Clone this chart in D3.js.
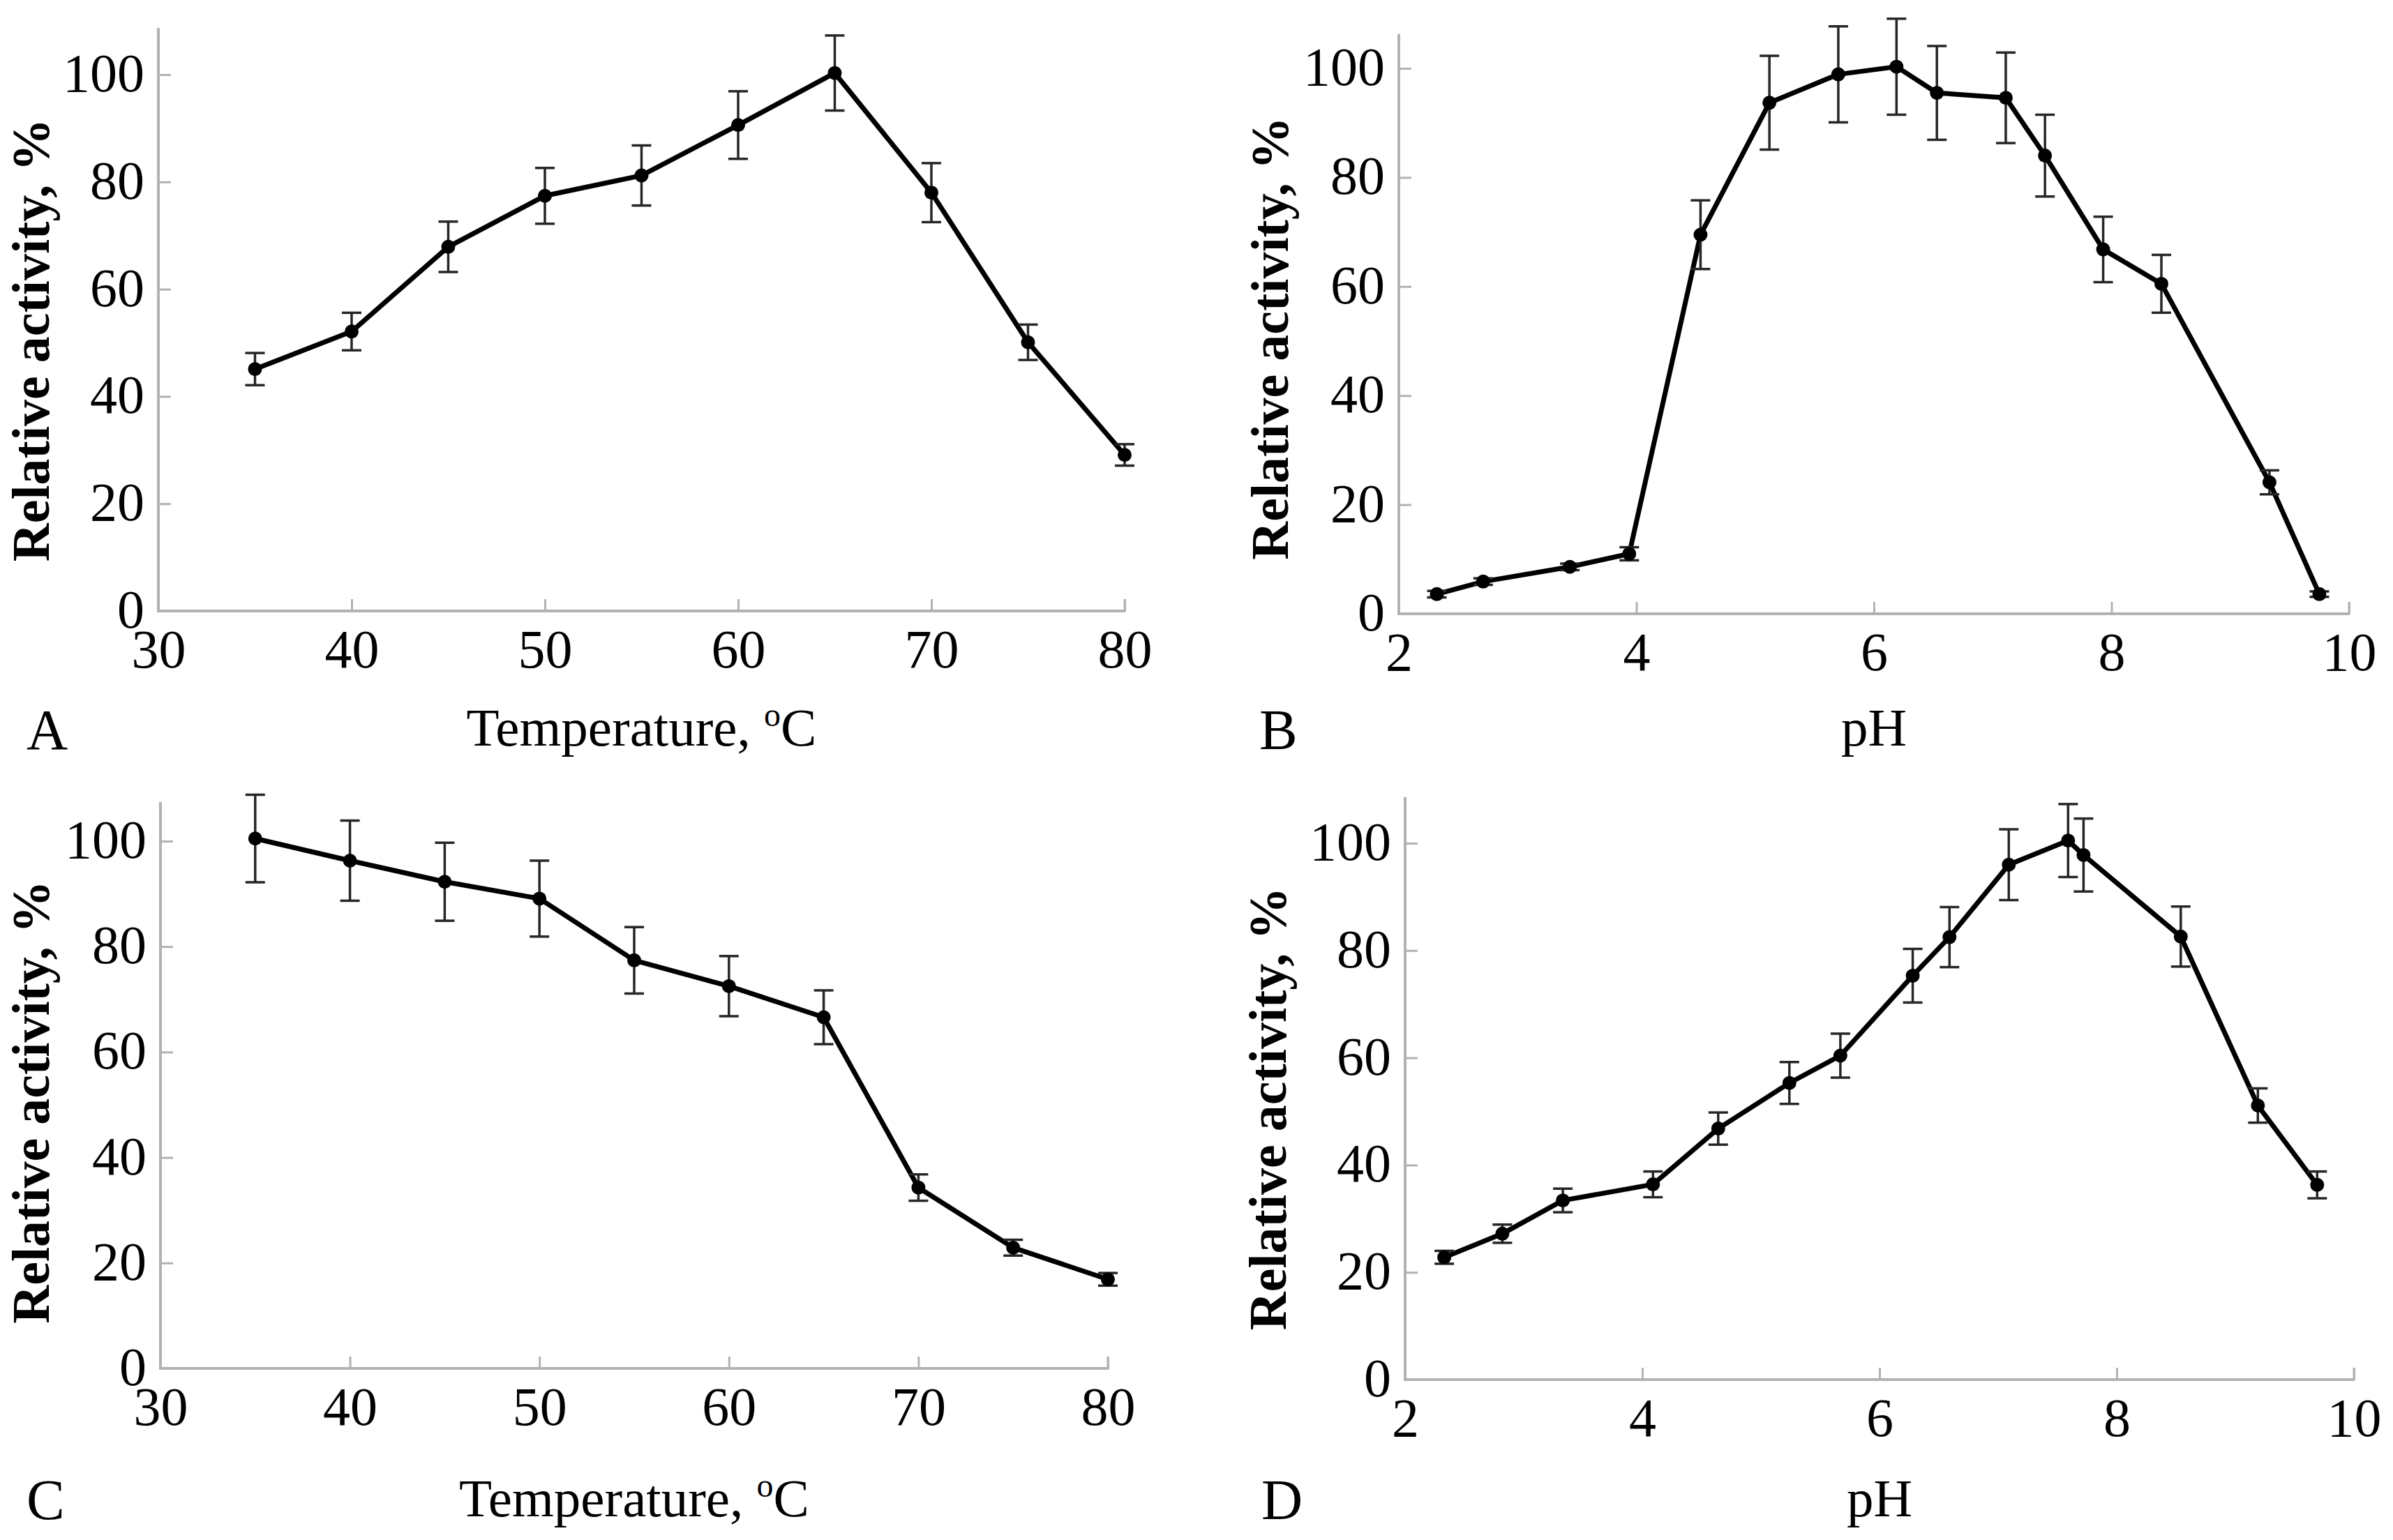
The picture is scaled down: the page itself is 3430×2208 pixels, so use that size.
<!DOCTYPE html>
<html>
<head>
<meta charset="utf-8">
<script src="https://cdn.jsdelivr.net/npm/d3@7"></script>
<style>
  html, body { margin: 0; padding: 0; background: #fff; }
  svg { display: block; }
</style>
</head>
<body>
<svg id="chart"></svg>
<script>
// temperature panels (A, C)
const tempX = [35, 40, 45, 50, 55, 60, 65, 70, 75, 80];
const actA = [45.1, 52.1, 67.9, 77.4, 81.2, 90.6, 100.3, 78.0, 50.1, 29.1];
const errA = [3.0, 3.5, 4.7, 5.2, 5.6, 6.3, 7.0, 5.5, 3.3, 2.0];
const actC = [100.5, 96.3, 92.3, 89.1, 77.4, 72.5, 66.6, 34.3, 22.9, 16.9];
const errC = [8.3, 7.6, 7.4, 7.2, 6.3, 5.7, 5.1, 2.5, 1.5, 1.2];

// pH panels (B, D)
const phB = [2.32, 2.71, 3.44, 3.94, 4.54, 5.12, 5.70, 6.19, 6.53, 7.11, 7.44, 7.93, 8.42, 9.33, 9.75];
const actB = [3.6, 5.9, 8.6, 11.0, 69.5, 93.7, 98.9, 100.3, 95.5, 94.6, 84.0, 66.8, 60.5, 24.1, 3.6];
const errB = [0.6, 0.6, 0.6, 1.2, 6.3, 8.6, 8.8, 8.8, 8.6, 8.3, 7.5, 6.0, 5.3, 2.2, 0.5];
const phD = [2.33, 2.82, 3.33, 4.09, 4.64, 5.24, 5.67, 6.28, 6.59, 7.09, 7.59, 7.72, 8.54, 9.19, 9.69];
const actD = [22.8, 27.2, 33.4, 36.4, 46.8, 55.3, 60.4, 75.3, 82.5, 96.0, 100.5, 97.8, 82.6, 51.1, 36.3];
const errD = [1.2, 1.7, 2.2, 2.4, 3.0, 3.9, 4.1, 5.0, 5.6, 6.6, 6.8, 6.8, 5.6, 3.2, 2.5];

const tempTicks = [30, 40, 50, 60, 70, 80];
const phTicks = [2, 4, 6, 8, 10];
const activityTicks = [0, 20, 40, 60, 80, 100];

const W = 3430, H = 2208;
const serif = "'Liberation Serif', 'Times New Roman', serif";
const axisColor = "#b2b2b2";

const svg = d3.select("#chart").attr("width", W).attr("height", H);

const panels = [
  { letter: "A", x: tempX, y: actA, err: errA, domain: [30, 80], ticks: tempTicks, title: "temp",
    left: 227, right: 1612, y0: 876, y100: 107, yMax: 108.7, labelX: 70, letterX: 38, letterY: 1074, titleY: 1069 },
  { letter: "B", x: phB, y: actB, err: errB, domain: [2, 10], ticks: phTicks, title: "pH",
    left: 2005, right: 3367, y0: 880, y100: 98, yMax: 106.3, labelX: 1846, letterX: 1805, letterY: 1074, titleY: 1069 },
  { letter: "C", x: tempX, y: actC, err: errC, domain: [30, 80], ticks: tempTicks, title: "temp",
    left: 230, right: 1588, y0: 1962, y100: 1206, yMax: 107.4, labelX: 70, letterX: 38, letterY: 2178, titleY: 2174 },
  { letter: "D", x: phD, y: actD, err: errD, domain: [2, 10], ticks: phTicks, title: "pH",
    left: 2014, right: 3374, y0: 1978, y100: 1209, yMax: 108.6, labelX: 1843, letterX: 1808, letterY: 2178, titleY: 2174 }
];

panels.forEach(p => {
  const g = svg.append("g");
  const x = d3.scaleLinear().domain(p.domain).range([p.left, p.right]);
  const y = d3.scaleLinear().domain([0, 100]).range([p.y0, p.y100]);

  // axes, ticks pointing inward
  const xAxis = d3.axisBottom(x).tickValues(p.ticks).tickSizeInner(-17).tickSizeOuter(0).tickPadding(20);
  const yAxis = d3.axisLeft(y).tickValues(activityTicks).tickSizeInner(-18).tickSizeOuter(0).tickPadding(20);

  const gx = g.append("g").attr("transform", `translate(0,${p.y0})`).call(xAxis);
  const gy = g.append("g").attr("transform", `translate(${p.left},0)`).call(yAxis);

  [gx, gy].forEach(a => {
    a.select(".domain").remove();
    a.selectAll(".tick line").attr("stroke", axisColor).attr("stroke-width", 3);
    a.selectAll(".tick text")
      .attr("fill", "#000")
      .style("font-family", serif)
      .style("font-size", "78px");
  });
  gx.selectAll(".tick text").attr("dy", null).attr("y", 81);
  gy.selectAll(".tick text").attr("dy", "0.3em");

  g.append("line")
    .attr("x1", p.left).attr("x2", p.left)
    .attr("y1", p.y0).attr("y2", y(p.yMax))
    .attr("stroke", axisColor).attr("stroke-width", 4);
  g.append("line")
    .attr("x1", p.left - 2).attr("x2", p.right + 1.5)
    .attr("y1", p.y0).attr("y2", p.y0)
    .attr("stroke", axisColor).attr("stroke-width", 4);
  g.append("line")
    .attr("x1", p.right).attr("x2", p.right)
    .attr("y1", p.y0).attr("y2", p.y0 - 17)
    .attr("stroke", axisColor).attr("stroke-width", 3);

  const pts = p.x.map((v, i) => ({ x: v, y: p.y[i], e: p.err[i] }));

  // data line
  g.append("path")
    .datum(pts)
    .attr("fill", "none")
    .attr("stroke", "#000")
    .attr("stroke-width", 7)
    .attr("stroke-linejoin", "round")
    .attr("d", d3.line().x(d => x(d.x)).y(d => y(d.y)));

  // error bars
  const eb = g.append("g").attr("stroke", "#262626").attr("stroke-width", 3.5);
  pts.forEach(d => {
    const cx = x(d.x);
    eb.append("line").attr("x1", cx).attr("x2", cx).attr("y1", y(d.y - d.e)).attr("y2", y(d.y + d.e));
    eb.append("line").attr("x1", cx - 14).attr("x2", cx + 14).attr("y1", y(d.y + d.e)).attr("y2", y(d.y + d.e));
    eb.append("line").attr("x1", cx - 14).attr("x2", cx + 14).attr("y1", y(d.y - d.e)).attr("y2", y(d.y - d.e));
  });

  g.selectAll("circle.pt")
    .data(pts)
    .enter()
    .append("circle")
    .attr("class", "pt")
    .attr("cx", d => x(d.x))
    .attr("cy", d => y(d.y))
    .attr("r", 10)
    .attr("fill", "#000");

  // y axis title
  g.append("text")
    .attr("transform", `translate(${p.labelX},${(p.y0 + p.y100) / 2 - 4}) rotate(-90)`)
    .attr("text-anchor", "middle")
    .style("font-family", serif)
    .style("font-weight", "bold")
    .style("font-size", "76px")
    .text("Relative activity, %");

  // x axis title
  const t = g.append("text")
    .attr("x", (p.left + p.right) / 2)
    .attr("y", p.titleY)
    .attr("text-anchor", "middle")
    .style("font-family", serif)
    .style("font-size", "77px");
  if (p.title === "temp") {
    t.append("tspan").text("Temperature, ");
    t.append("tspan").attr("dy", -28).style("font-size", "48px").text("o");
    t.append("tspan").attr("dy", 28).text("C");
  } else {
    t.text("pH");
  }

  // panel letter
  g.append("text")
    .attr("x", p.letterX)
    .attr("y", p.letterY)
    .style("font-family", serif)
    .style("font-size", "82px")
    .text(p.letter);
});
</script>
</body>
</html>
